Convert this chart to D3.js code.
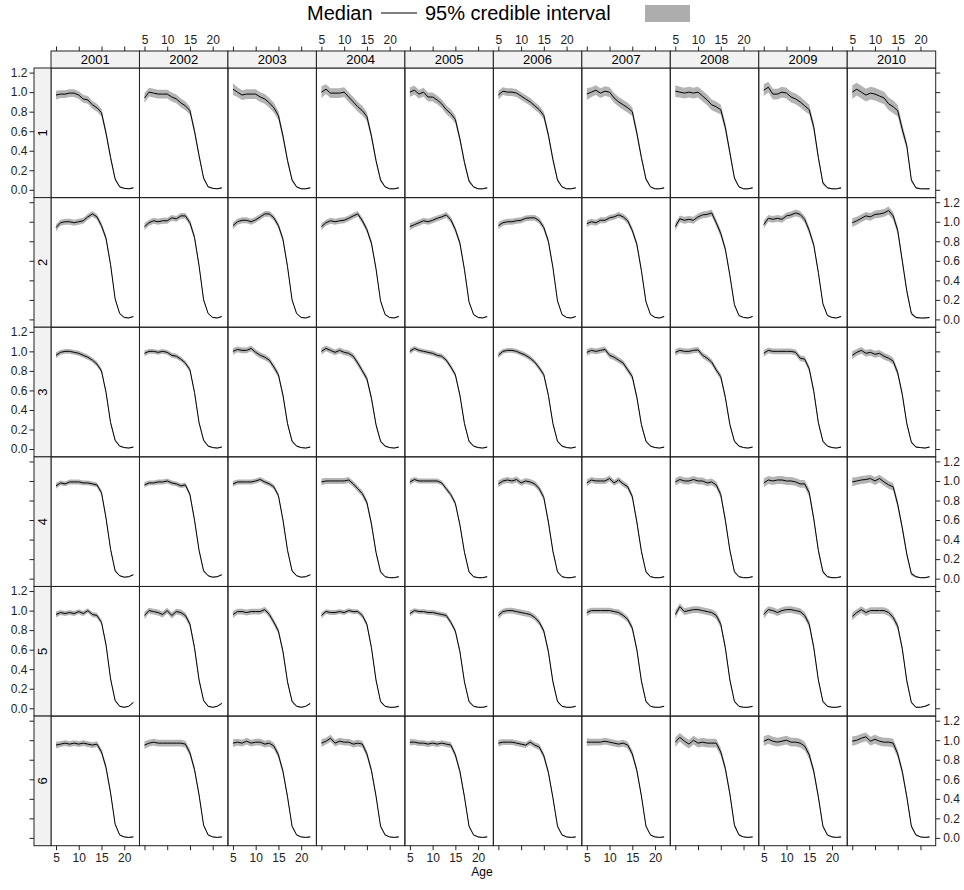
<!DOCTYPE html>
<html>
<head>
<meta charset="utf-8">
<script src="https://cdn.jsdelivr.net/npm/d3@7"></script>
<style>
  body { margin: 0; background: #fff; }
  svg { display: block; font-family: "Liberation Sans", Arial, sans-serif; }
</style>
</head>
<body>
<div id="wrapper"></div>
<script>
// 1. Data
const years = [2001, 2002, 2003, 2004, 2005, 2006, 2007, 2008, 2009, 2010];
const groups = ["1", "2", "3", "4", "5", "6"];
const ages = [5, 6, 7, 8, 9, 10, 11, 12, 13, 14, 15, 16, 17, 18, 19, 20, 21, 22];
const ageTicks = [5, 10, 15, 20];
const valueTicks = [0, 0.2, 0.4, 0.6, 0.8, 1.0, 1.2];

// medians, one array per year (2001..2010), values per age 5..22
const median1 = [
  [0.97,0.98,0.98,0.99,0.99,0.97,0.93,0.92,0.87,0.84,0.79,0.58,0.33,0.11,0.03,0.015,0.01,0.02],
  [0.94,1.00,0.99,0.98,0.98,0.98,0.95,0.93,0.89,0.86,0.81,0.60,0.35,0.12,0.03,0.015,0.01,0.02],
  [1.03,1.00,0.97,0.98,0.98,0.98,0.95,0.93,0.89,0.84,0.76,0.55,0.30,0.10,0.03,0.01,0.01,0.02],
  [1.00,1.03,0.99,0.99,0.99,1.00,0.95,0.90,0.85,0.81,0.75,0.55,0.30,0.10,0.03,0.01,0.01,0.02],
  [1.00,1.02,0.98,1.00,0.95,0.95,0.92,0.88,0.82,0.78,0.72,0.52,0.28,0.09,0.03,0.01,0.01,0.02],
  [0.97,1.01,1.00,1.00,0.99,0.96,0.93,0.90,0.86,0.82,0.76,0.56,0.31,0.10,0.03,0.01,0.01,0.02],
  [0.98,1.00,1.02,0.99,1.01,1.00,0.94,0.90,0.87,0.84,0.80,0.58,0.33,0.11,0.03,0.01,0.01,0.02],
  [1.01,1.00,0.99,1.00,0.99,1.00,0.96,0.92,0.87,0.85,0.82,0.64,0.38,0.12,0.03,0.01,0.01,0.02],
  [1.02,1.05,0.98,0.98,1.00,0.99,0.95,0.93,0.90,0.86,0.82,0.64,0.33,0.07,0.02,0.01,0.01,0.02],
  [1.00,1.03,1.00,0.97,0.99,0.98,0.96,0.94,0.88,0.85,0.81,0.62,0.45,0.10,0.02,0.01,0.01,0.01],
];
const median2 = [
  [0.94,0.99,1.00,1.00,0.99,1.00,1.01,1.05,1.08,1.05,0.96,0.83,0.56,0.21,0.06,0.02,0.015,0.03],
  [0.95,0.99,1.01,1.00,1.01,1.01,1.04,1.03,1.06,1.06,0.99,0.84,0.55,0.20,0.06,0.02,0.015,0.03],
  [0.96,1.00,1.015,1.015,1.00,1.02,1.05,1.08,1.08,1.04,0.96,0.82,0.54,0.20,0.06,0.02,0.015,0.03],
  [0.95,0.99,1.01,1.00,1.01,1.015,1.035,1.06,1.08,1.01,0.92,0.78,0.52,0.19,0.05,0.02,0.015,0.03],
  [0.95,0.97,0.99,1.01,1.00,1.015,1.035,1.05,1.07,1.02,0.92,0.78,0.51,0.18,0.05,0.02,0.015,0.03],
  [0.96,0.99,1.00,1.00,1.01,1.015,1.035,1.04,1.04,1.01,0.94,0.80,0.53,0.19,0.05,0.02,0.015,0.03],
  [0.98,1.00,0.99,1.015,1.015,1.04,1.05,1.07,1.05,1.01,0.91,0.77,0.50,0.18,0.05,0.02,0.015,0.03],
  [0.95,1.03,1.015,1.025,1.015,1.05,1.07,1.075,1.09,0.99,0.88,0.72,0.45,0.15,0.04,0.02,0.015,0.03],
  [0.97,1.035,1.025,1.035,1.025,1.06,1.07,1.09,1.075,1.025,0.91,0.76,0.48,0.16,0.04,0.02,0.015,0.03],
  [0.99,1.01,1.035,1.06,1.05,1.075,1.08,1.09,1.115,1.06,0.91,0.60,0.29,0.06,0.02,0.015,0.015,0.02],
];
const median3 = [
  [0.96,0.99,1.00,1.00,0.99,0.98,0.96,0.94,0.91,0.87,0.80,0.58,0.27,0.09,0.03,0.015,0.01,0.02],
  [0.98,1.00,1.00,0.99,1.00,0.99,0.96,0.95,0.92,0.88,0.81,0.58,0.27,0.09,0.03,0.015,0.01,0.02],
  [1.00,1.02,1.01,1.01,1.03,0.99,0.96,0.94,0.91,0.84,0.76,0.55,0.26,0.08,0.03,0.015,0.01,0.02],
  [1.00,1.03,1.01,0.99,1.01,0.99,0.98,0.95,0.88,0.80,0.72,0.52,0.25,0.08,0.03,0.015,0.01,0.02],
  [1.00,1.03,1.01,1.00,0.99,0.98,0.96,0.95,0.91,0.84,0.76,0.55,0.26,0.08,0.03,0.015,0.01,0.02],
  [0.96,1.00,1.01,1.01,1.00,0.98,0.96,0.93,0.89,0.83,0.76,0.55,0.26,0.08,0.03,0.015,0.01,0.02],
  [0.99,1.01,1.00,1.01,1.02,0.96,0.94,0.91,0.88,0.81,0.74,0.53,0.25,0.08,0.03,0.015,0.01,0.02],
  [0.99,1.01,1.00,1.00,1.01,1.015,0.96,0.93,0.89,0.81,0.74,0.53,0.25,0.08,0.03,0.015,0.01,0.02],
  [0.98,1.01,1.00,1.00,1.00,1.00,1.00,0.99,0.93,0.92,0.82,0.59,0.27,0.08,0.03,0.015,0.01,0.02],
  [0.96,0.99,1.01,0.98,0.99,0.97,0.98,0.95,0.93,0.90,0.78,0.56,0.26,0.07,0.02,0.015,0.01,0.02],
];
const median4 = [
  [0.95,0.98,0.97,0.99,0.99,0.99,0.98,0.98,0.97,0.96,0.88,0.62,0.30,0.08,0.03,0.015,0.02,0.04],
  [0.96,0.98,0.98,0.99,0.99,1.00,0.98,0.97,0.95,0.96,0.86,0.60,0.29,0.08,0.03,0.015,0.02,0.04],
  [0.97,0.99,0.99,0.99,0.99,1.00,1.015,0.99,0.97,0.94,0.85,0.60,0.29,0.08,0.03,0.015,0.02,0.04],
  [0.99,1.00,1.00,1.00,1.00,1.00,1.01,0.97,0.92,0.87,0.78,0.56,0.27,0.07,0.02,0.01,0.01,0.02],
  [0.99,1.015,1.00,1.00,1.00,1.00,1.00,0.98,0.92,0.86,0.77,0.55,0.27,0.07,0.02,0.01,0.01,0.02],
  [0.97,1.00,1.01,1.00,1.015,0.98,1.00,0.99,0.97,0.92,0.83,0.58,0.28,0.07,0.02,0.01,0.01,0.02],
  [0.98,1.01,1.00,1.00,1.00,1.025,0.98,1.01,0.97,0.94,0.84,0.58,0.28,0.07,0.02,0.01,0.01,0.02],
  [0.99,1.015,1.00,1.00,1.015,1.00,1.00,0.98,0.99,0.96,0.86,0.60,0.29,0.07,0.02,0.01,0.01,0.02],
  [0.98,1.01,1.00,1.01,1.01,1.00,1.00,0.99,0.97,0.97,0.88,0.61,0.29,0.07,0.02,0.01,0.01,0.02],
  [0.99,1.00,1.01,1.015,1.025,1.00,1.025,0.99,0.96,0.94,0.76,0.52,0.25,0.05,0.02,0.01,0.01,0.02],
];
const median5 = [
  [0.96,0.98,0.97,0.98,0.97,0.99,0.97,1.00,0.96,0.95,0.88,0.65,0.30,0.08,0.02,0.01,0.02,0.06],
  [0.95,1.00,0.99,0.98,0.96,1.00,0.95,0.99,0.98,0.95,0.86,0.62,0.29,0.08,0.02,0.01,0.02,0.05],
  [0.96,0.99,0.99,0.98,0.99,0.99,0.99,1.01,0.96,0.88,0.79,0.58,0.27,0.07,0.02,0.01,0.02,0.05],
  [0.95,0.99,0.98,0.98,0.99,0.98,1.00,0.99,0.99,0.95,0.86,0.62,0.29,0.07,0.02,0.01,0.01,0.02],
  [0.97,1.00,0.99,0.99,0.98,0.98,0.97,0.96,0.95,0.88,0.79,0.58,0.27,0.07,0.02,0.01,0.01,0.02],
  [0.95,0.99,1.00,1.00,0.99,0.98,0.97,0.96,0.93,0.88,0.79,0.58,0.27,0.07,0.02,0.01,0.01,0.02],
  [0.98,1.00,1.00,1.00,1.00,1.00,0.99,0.98,0.95,0.91,0.82,0.60,0.28,0.07,0.02,0.01,0.01,0.02],
  [0.96,1.04,0.99,1.00,1.01,1.01,1.00,0.99,0.98,0.95,0.86,0.62,0.29,0.07,0.02,0.01,0.01,0.02],
  [0.96,1.01,1.00,0.98,1.00,1.01,1.01,1.00,0.99,0.95,0.86,0.62,0.29,0.07,0.02,0.01,0.01,0.02],
  [0.94,0.98,1.01,0.98,1.00,1.00,1.00,1.00,0.98,0.93,0.84,0.61,0.28,0.06,0.01,0.01,0.02,0.04],
];
const median6 = [
  [0.95,0.96,0.97,0.96,0.97,0.96,0.97,0.96,0.95,0.96,0.88,0.72,0.46,0.14,0.03,0.01,0.005,0.01],
  [0.95,0.97,0.98,0.97,0.97,0.97,0.97,0.97,0.97,0.96,0.87,0.70,0.44,0.13,0.03,0.01,0.005,0.01],
  [0.97,0.98,0.97,0.99,0.97,0.98,0.98,0.96,0.97,0.94,0.85,0.68,0.42,0.12,0.03,0.01,0.005,0.01],
  [0.97,0.99,1.02,0.97,0.99,0.98,0.98,0.96,0.97,0.96,0.86,0.69,0.43,0.12,0.03,0.01,0.005,0.01],
  [0.98,0.98,0.97,0.97,0.96,0.97,0.96,0.97,0.96,0.95,0.85,0.68,0.42,0.12,0.03,0.01,0.005,0.01],
  [0.97,0.98,0.98,0.98,0.97,0.96,0.95,0.98,0.95,0.93,0.84,0.67,0.41,0.12,0.03,0.01,0.005,0.01],
  [0.98,0.98,0.98,0.98,0.99,0.98,0.97,0.96,0.97,0.95,0.86,0.69,0.43,0.12,0.03,0.01,0.005,0.01],
  [0.98,1.03,0.99,0.96,1.00,0.97,0.98,0.97,0.97,0.97,0.88,0.71,0.45,0.13,0.03,0.01,0.005,0.01],
  [0.99,1.01,0.99,0.98,0.99,1.00,0.98,0.98,0.97,0.94,0.85,0.68,0.42,0.12,0.03,0.01,0.005,0.01],
  [0.99,1.00,1.02,1.035,0.99,1.01,0.99,0.98,0.98,0.97,0.86,0.68,0.42,0.12,0.03,0.01,0.005,0.01],
];

// half widths of the 95% credible interval (per age)
const ci025 = [.03,.025,.025,.025,.025,.025,.025,.025,.025,.025,.025,.025,.02,.015,.008,.005,.005,.008];
const ci030 = [.035,.03,.03,.03,.03,.03,.03,.03,.03,.03,.03,.03,.025,.015,.008,.005,.005,.008];
const ci035 = [.04,.035,.035,.035,.035,.035,.035,.035,.035,.035,.035,.03,.025,.015,.008,.005,.005,.008];
const ci040 = [.045,.04,.04,.04,.04,.04,.04,.04,.04,.04,.04,.035,.03,.02,.01,.005,.005,.008];
const ci045 = [.05,.045,.045,.045,.045,.045,.045,.045,.045,.045,.04,.035,.03,.02,.01,.005,.005,.008];
const ci050 = [.06,.05,.05,.05,.05,.05,.05,.05,.05,.05,.045,.04,.03,.02,.01,.005,.005,.008];
const ci055 = [.06,.055,.055,.055,.055,.055,.055,.055,.055,.055,.05,.045,.035,.02,.01,.005,.005,.008];
const ci065 = [.07,.065,.065,.065,.065,.065,.065,.065,.065,.065,.06,.05,.04,.02,.01,.005,.005,.008];

const ciRow1 = [ci040, ci045, ci050, ci050, ci045, ci040, ci050, ci055, ci055, ci065];
const ciRow2 = [ci030, ci030, ci030, ci030, ci030, ci030, ci030, ci035, ci035, ci040];
const ciRow3 = [ci025, ci025, ci030, ci030, ci025, ci025, ci030, ci030, ci030, ci035];
const ciRow4 = [ci025, ci025, ci025, ci030, ci025, ci030, ci030, ci035, ci040, ci040];
const ciRow5 = [ci025, ci030, ci030, ci025, ci025, ci030, ci030, ci035, ci035, ci035];
const ciRow6 = [ci030, ci035, ci035, ci035, ci030, ci030, ci035, ci045, ci045, ci045];

const medians = [median1, median2, median3, median4, median5, median6];
const ciRows = [ciRow1, ciRow2, ciRow3, ciRow4, ciRow5, ciRow6];

// 2. Dimensions
const dimensions = {
  width: 964,
  height: 890,
  left: 51,
  right: 935.7,
  stripTop: 51,
  top: 68,
  bottom: 845.7,
  stripWidth: 17,
};
const panelW = (dimensions.right - dimensions.left) / years.length;
const panelH = (dimensions.bottom - dimensions.top) / groups.length;
const tickLen = 4.5;

// 3. Canvas
const svg = d3
  .select("#wrapper")
  .append("svg")
  .attr("width", dimensions.width)
  .attr("height", dimensions.height);

svg.append("rect").attr("width", dimensions.width).attr("height", dimensions.height).attr("fill", "#fff");

// 4. Scales
const xScale = d3.scaleLinear().domain([3.9, 23.35]).range([0, panelW]);
const yScale = d3.scaleLinear().domain([-0.08, 1.247]).range([panelH, 0]);

const area = d3
  .area()
  .x((d) => xScale(d.age))
  .y0((d) => yScale(d.mid - d.half))
  .y1((d) => yScale(d.mid + d.half));
const line = d3
  .line()
  .x((d) => xScale(d.age))
  .y((d) => yScale(d.mid));

svg.append("defs")
  .append("clipPath")
  .attr("id", "panel-clip")
  .append("rect")
  .attr("width", panelW)
  .attr("height", panelH);

// 5. Panels
groups.forEach((g, r) => {
  years.forEach((yr, c) => {
    const data = ages.map((a, i) => ({
      age: a,
      mid: medians[r][c][i],
      half: ciRows[r][c][i],
    }));
    const panel = svg
      .append("g")
      .attr("transform", `translate(${dimensions.left + c * panelW},${dimensions.top + r * panelH})`);
    const inner = panel.append("g").attr("clip-path", "url(#panel-clip)");
    inner.append("path").datum(data).attr("d", area).attr("fill", "#b4b4b4");
    inner.append("path").datum(data).attr("d", line).attr("fill", "none").attr("stroke", "#000").attr("stroke-width", 1);
    panel
      .append("rect")
      .attr("width", panelW)
      .attr("height", panelH)
      .attr("fill", "none")
      .attr("stroke", "#222")
      .attr("stroke-width", 1);
  });
});

// top strips (years)
years.forEach((yr, c) => {
  const s = svg.append("g").attr("transform", `translate(${dimensions.left + c * panelW},${dimensions.stripTop})`);
  s.append("rect")
    .attr("width", panelW)
    .attr("height", dimensions.top - dimensions.stripTop)
    .attr("fill", "#f2f2f2")
    .attr("stroke", "#222");
  s.append("text")
    .attr("x", panelW / 2)
    .attr("y", 13)
    .attr("text-anchor", "middle")
    .attr("font-size", 13)
    .text(yr);
});

// left strips (groups)
groups.forEach((g, r) => {
  const s = svg.append("g").attr("transform", `translate(${dimensions.left - dimensions.stripWidth},${dimensions.top + r * panelH})`);
  s.append("rect")
    .attr("width", dimensions.stripWidth)
    .attr("height", panelH)
    .attr("fill", "#f2f2f2")
    .attr("stroke", "#222");
  s.append("text")
    .attr("transform", `translate(${dimensions.stripWidth / 2 + 4.5},${panelH / 2}) rotate(-90)`)
    .attr("text-anchor", "middle")
    .attr("font-size", 13)
    .text(g);
});

// 6. Axes (alternating labels, lattice style)
function styleAxis(sel) {
  sel.select(".domain").remove();
  sel.selectAll(".tick line").attr("stroke", "#222");
  sel.selectAll(".tick text").attr("font-size", 12).attr("fill", "#222").attr("font-family", null);
}

years.forEach((yr, c) => {
  const x0 = dimensions.left + c * panelW;
  const topAxis = d3
    .axisTop(xScale)
    .tickValues(ageTicks)
    .tickSize(tickLen)
    .tickPadding(3)
    .tickFormat((d) => (c % 2 === 1 ? d : ""));
  svg.append("g").attr("transform", `translate(${x0},${dimensions.stripTop})`).call(topAxis).call(styleAxis);

  const bottomAxis = d3
    .axisBottom(xScale)
    .tickValues(ageTicks)
    .tickSize(tickLen)
    .tickPadding(3)
    .tickFormat((d) => (c % 2 === 0 ? d : ""));
  svg.append("g").attr("transform", `translate(${x0},${dimensions.bottom})`).call(bottomAxis).call(styleAxis);
});

groups.forEach((g, r) => {
  const y0 = dimensions.top + r * panelH;
  const leftAxis = d3
    .axisLeft(yScale)
    .tickValues(valueTicks)
    .tickSize(tickLen)
    .tickPadding(2)
    .tickFormat((d) => (r % 2 === 0 ? d3.format(".1f")(d) : ""));
  svg.append("g")
    .attr("transform", `translate(${dimensions.left - dimensions.stripWidth},${y0})`)
    .call(leftAxis)
    .call(styleAxis);

  const rightAxis = d3
    .axisRight(yScale)
    .tickValues(valueTicks)
    .tickSize(tickLen)
    .tickPadding(3)
    .tickFormat((d) => (r % 2 === 1 ? d3.format(".1f")(d) : ""));
  svg.append("g").attr("transform", `translate(${dimensions.right},${y0})`).call(rightAxis).call(styleAxis);
});

// x label
svg.append("text")
  .attr("x", 482)
  .attr("y", 876)
  .attr("text-anchor", "middle")
  .attr("font-size", 12)
  .text("Age");

// 7. Legend (key above the panels)
const legend = svg.append("g").attr("font-size", 20);
legend.append("text").attr("x", 307).attr("y", 20).text("Median");
legend.append("line")
  .attr("x1", 381).attr("x2", 417)
  .attr("y1", 13).attr("y2", 13)
  .attr("stroke", "#000");
legend.append("text").attr("x", 425).attr("y", 20).text("95% credible interval");
legend.append("rect")
  .attr("x", 645).attr("y", 5)
  .attr("width", 45).attr("height", 17)
  .attr("fill", "#adadad");
</script>
</body>
</html>
